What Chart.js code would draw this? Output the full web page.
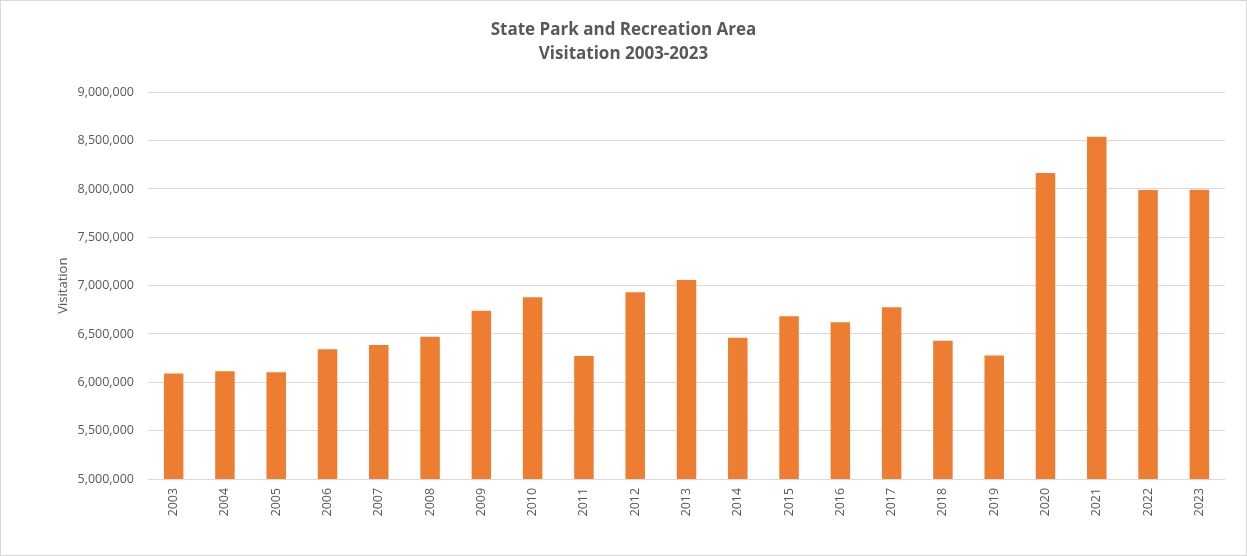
<!DOCTYPE html>
<html>
<head>
<meta charset="utf-8">
<script src="https://cdn.jsdelivr.net/npm/chart.js@4"></script>
<style>
  html, body { margin: 0; padding: 0; background: #fff; }
  #wrap { position: relative; width: 1247px; height: 556px; box-sizing: border-box; border: 1px solid #d9d9d9; }
  canvas { display: block; }
</style>
</head>
<body>
<div id="wrap"><canvas id="parkChart" width="1245" height="554"></canvas></div>
<script>
const years = ['2003','2004','2005','2006','2007','2008','2009','2010','2011','2012','2013',
               '2014','2015','2016','2017','2018','2019','2020','2021','2022','2023'];
const visitation = [6090000, 6114000, 6104000, 6342000, 6386000, 6472000, 6741000, 6879000,
                    6272000, 6931000, 7059000, 6462000, 6683000, 6621000, 6776000, 6431000,
                    6277000, 8166000, 8540000, 7988000, 7993000];
const chartTitle = ['State Park and Recreation Area', 'Visitation 2003-2023'];
const axisTitle = 'Visitation';

const grey = '#595959';
const ctx = document.getElementById('parkChart').getContext('2d');
new Chart(ctx, {
  type: 'bar',
  data: {
    labels: years,
    datasets: [{ label: axisTitle, data: visitation, backgroundColor: '#ED7D31',
                 barPercentage: 0.38, categoryPercentage: 1 }]
  },
  options: {
    responsive: false,
    animation: false,
    layout: { padding: { left: 21, right: 21, top: 0, bottom: 0 } },
    plugins: {
      legend: { display: false },
      tooltip: { enabled: false },
      title: {
        display: true,
        text: chartTitle,
        color: grey,
        font: { family: 'Open Sans', size: 17, weight: 'bold', lineHeight: 1.42 },
        padding: { top: 17, bottom: 26 }
      }
    },
    scales: {
      x: {
        grid: { display: false, drawTicks: false },
        border: { display: false },
        ticks: { color: grey, font: { family: 'Open Sans', size: 12.4 }, minRotation: 90, maxRotation: 90, padding: 9 },
        afterFit: s => { s.height = 76; }
      },
      y: {
        min: 5000000,
        max: 9000000,
        grid: { color: '#d9d9d9', drawTicks: false },
        border: { display: false },
        ticks: {
          stepSize: 500000,
          color: grey,
          padding: 14,
          font: { family: 'Open Sans', size: 12.5 },
          callback: v => v.toLocaleString('en-US')
        },
        title: { display: true, text: axisTitle, color: grey, font: { family: 'Open Sans', size: 13 }, padding: { top: 33, bottom: 0 } },
        afterFit: s => { s.width = 126; }
      }
    }
  }
});
</script>
</body>
</html>
